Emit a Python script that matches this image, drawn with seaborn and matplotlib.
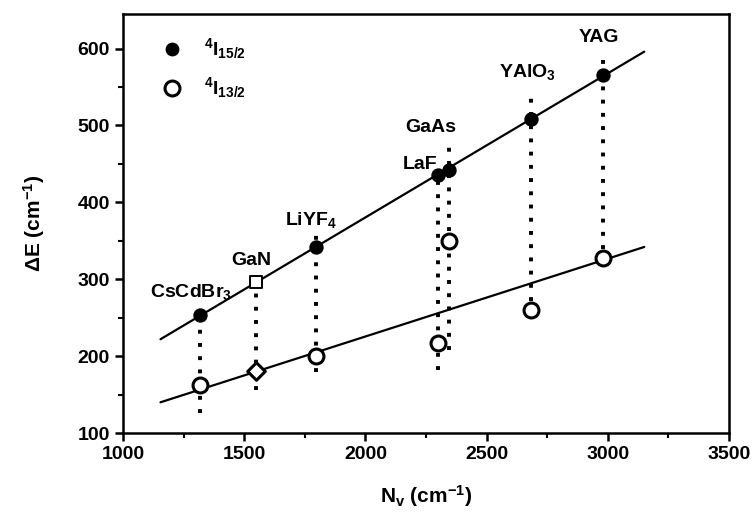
import numpy as np
import pandas as pd
import matplotlib
matplotlib.use("Agg")
import matplotlib.pyplot as plt
import seaborn as sns

# ---- data ----
materials = ["CsCdBr3", "GaN", "LiYF4", "LaF3", "GaAs", "YAlO3", "YAG"]
nv = [1320, 1548, 1795, 2301, 2346, 2682, 2979]
de_15_2 = [254, 296, 342, 436, 442, 508, 565]
de_13_2 = [162, 181, 200, 217, 350, 260, 328]
upper_marker = ["o", "s", "o", "o", "o", "o", "o"]
lower_marker = ["o", "D", "o", "o", "o", "o", "o"]
dot_top = [254, 296, 360, 436, 476, 538, 592]
dot_bottom = [126, 156, 180, 182, 208, 272, 340]

fit_x = [1155, 3150]
fit_15_2 = [222, 596]
fit_13_2 = [140, 342]

label_text = [r"CsCdBr$_\mathbf{3}$", "GaN", r"LiYF$_\mathbf{4}$", "LaF", "GaAs",
              r"YAlO$_\mathbf{3}$", "YAG"]
label_x = [1112, 1530, 1777, 2227, 2270, 2670, 2962]
label_y = [284, 325, 377, 449, 497, 570, 614]
label_ha = ["left", "center", "center", "center", "center", "center", "center"]

legend_labels = [r"$^\mathbf{4}$I$_\mathbf{15/2}$", r"$^\mathbf{4}$I$_\mathbf{13/2}$"]
legend_x = [1202, 1202]
legend_y = [600, 549]

xticks = [1000, 1500, 2000, 2500, 3000, 3500]
yticks = [100, 200, 300, 400, 500, 600]

# ---- plotting ----
sns.set_style("ticks")
plt.rcParams["font.family"] = ["Liberation Sans", "DejaVu Sans"]
plt.rcParams["font.weight"] = "bold"
plt.rcParams["text.color"] = "black"
plt.rcParams["axes.labelcolor"] = "black"
plt.rcParams["xtick.color"] = "black"
plt.rcParams["ytick.color"] = "black"
plt.rcParams["mathtext.fontset"] = "custom"
plt.rcParams["mathtext.rm"] = "Liberation Sans:bold"
plt.rcParams["mathtext.bf"] = "Liberation Sans:bold"
plt.rcParams["mathtext.it"] = "Liberation Sans:bold"

fig = plt.figure(figsize=(7.54, 5.18), dpi=100)
ax = fig.add_axes([0.163, 0.164, 0.804, 0.809])

df = pd.DataFrame({"material": materials, "nv": nv, "up": de_15_2, "lo": de_13_2,
                   "mu": upper_marker, "ml": lower_marker,
                   "top": dot_top, "bot": dot_bottom})

# dotted verticals
ax.vlines(df["nv"], df["bot"], df["top"], colors="black", linestyles=(0, (1, 2.4)),
          linewidth=2.8, zorder=1)

# fit lines
fit_df = pd.DataFrame({"x": fit_x, "a": fit_15_2, "b": fit_13_2})
sns.lineplot(data=fit_df, x="x", y="a", color="black", linewidth=1.6, ax=ax, zorder=2)
sns.lineplot(data=fit_df, x="x", y="b", color="black", linewidth=1.6, ax=ax, zorder=2)

# points
for m in sorted(set(upper_marker)):
    sub = df[df["mu"] == m]
    filled = (m == "o")
    sns.scatterplot(data=sub, x="nv", y="up", marker=m, s=80 if filled else 70,
                    color="black" if filled else "white", edgecolor="black",
                    linewidth=1.4, ax=ax, zorder=3)
for m in sorted(set(lower_marker)):
    sub = df[df["ml"] == m]
    sns.scatterplot(data=sub, x="nv", y="lo", marker=m, s=115 if m == "o" else 80,
                    color="white", edgecolor="black", linewidth=2.2, ax=ax, zorder=3)

# material labels
for t, x, y, ha in zip(label_text, label_x, label_y, label_ha):
    ax.text(x, y, t, ha=ha, va="center", fontsize=14, fontweight="bold", zorder=4)

# legend (drawn as in the figure)
ax.scatter([legend_x[0]], [legend_y[0]], marker="o", s=80, color="black", zorder=3)
ax.scatter([legend_x[1]], [legend_y[1]], marker="o", s=115, facecolor="white",
           edgecolor="black", linewidth=2.2, zorder=3)
for t, y in zip(legend_labels, legend_y):
    ax.text(1335, y, t, ha="left", va="center", fontsize=14, fontweight="bold")

ax.set_xlim(1000, 3500)
ax.set_ylim(100, 645)
ax.set_xticks(xticks)
ax.set_yticks(yticks)
ax.set_xticks([1250, 1750, 2250, 2750, 3250], minor=True)
ax.set_yticks([150, 250, 350, 450, 550], minor=True)
ax.tick_params(axis="both", which="major", direction="out", length=6, width=1.8,
               labelsize=14)
ax.tick_params(axis="both", which="minor", direction="out", length=3.5, width=1.5)
for lab in ax.get_xticklabels() + ax.get_yticklabels():
    lab.set_fontweight("bold")
for sp in ax.spines.values():
    sp.set_visible(True)
    sp.set_linewidth(1.8)
    sp.set_color("black")

ax.set_xlabel(r"N$_\mathbf{v}$ (cm$^\mathbf{-1}$)", fontsize=15, fontweight="bold",
              labelpad=14)
ax.set_ylabel(r"ΔE (cm$^\mathbf{-1}$)", fontsize=15, fontweight="bold", labelpad=22)

fig.savefig("out.png", dpi=100)
